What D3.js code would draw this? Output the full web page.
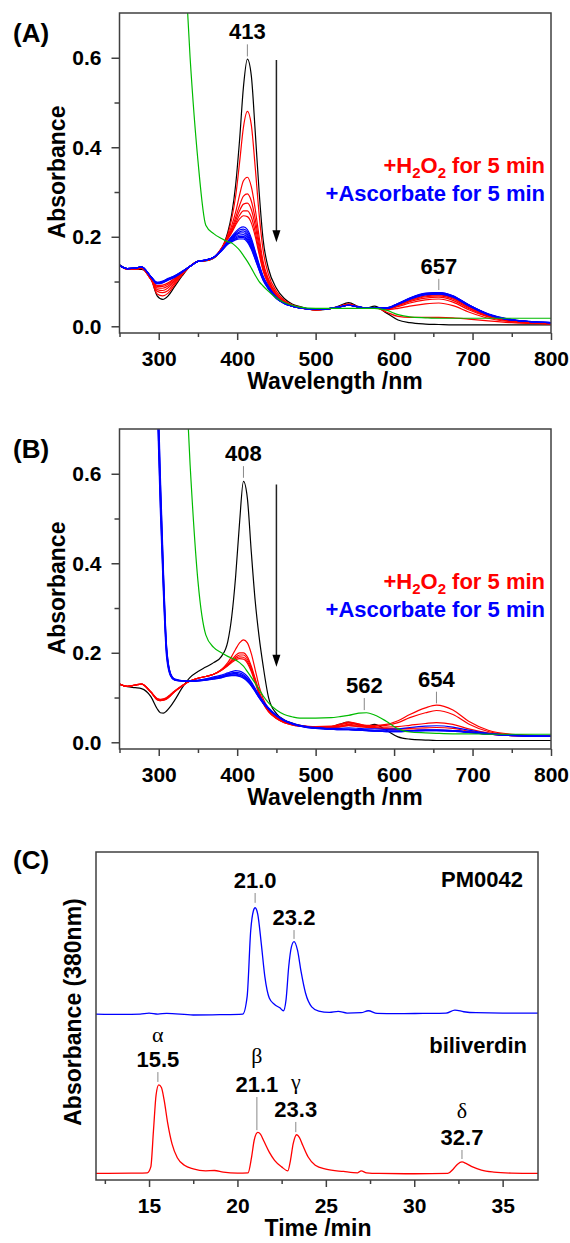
<!DOCTYPE html>
<html>
<head>
<meta charset="utf-8">
<title>Spectral changes and HPLC of biliverdin isomers</title>
<script src="https://d3js.org/d3.v7.min.js"></script>
<style>
  body { margin: 0; background: #fff; }
  svg { display: block; }
  text { font-family: 'Liberation Sans', Arial, Helvetica, sans-serif; font-weight: bold; fill: #000; }
  .tick text { font-size: 21px; }
  .title { font-size: 23px; }
  .peak { font-size: 22px; }
  .legend text { font-size: 22px; }
  .panel { font-size: 26px; }
  .greek { font-family: 'Liberation Serif', 'Times New Roman', serif; font-weight: normal; font-size: 22px; }
</style>
</head>
<body>
<svg id="figure" width="570" height="1243"></svg>
<script>
// ---------- (A) UV-vis spectra ----------
const nmA = [250, 260, 270, 278, 290, 298, 305, 312, 320, 330, 340, 350, 360, 370, 380,
  388, 393, 398, 403, 408, 413, 418, 423, 428, 433, 440, 450, 460, 470, 480,
  500, 520, 530, 542, 555, 565, 575, 590, 605, 620, 640, 657, 675, 695, 720, 750, 800]

const blackA = [0.138, 0.128, 0.127, 0.127, 0.108, 0.068, 0.060, 0.068, 0.088, 0.113,
  0.134, 0.145, 0.146, 0.152, 0.172, 0.210, 0.250, 0.315, 0.415, 0.535,
  0.597, 0.560, 0.435, 0.300, 0.195, 0.128, 0.085, 0.062, 0.050, 0.044,
  0.036, 0.040, 0.046, 0.053, 0.044, 0.041, 0.045, 0.030, 0.014, 0.008,
  0.005, 0.004, 0.003, 0.003, 0.003, 0.003, 0.003]

// +H2O2 traces
const redA = [
  [0.136, 0.128, 0.128, 0.130, 0.107, 0.072, 0.068, 0.074, 0.092, 0.115,
   0.134, 0.145, 0.147, 0.153, 0.174, 0.205, 0.240, 0.290, 0.365, 0.445,
   0.480, 0.450, 0.355, 0.250, 0.170, 0.115, 0.078, 0.058, 0.048, 0.043,
   0.037, 0.040, 0.044, 0.050, 0.043, 0.040, 0.042, 0.032, 0.022, 0.020,
   0.020, 0.020, 0.019, 0.016, 0.012, 0.008, 0.005],
  [0.136, 0.128, 0.128, 0.130, 0.106, 0.078, 0.075, 0.080, 0.096, 0.117,
   0.134, 0.145, 0.147, 0.153, 0.174, 0.200, 0.225, 0.255, 0.293, 0.325,
   0.333, 0.312, 0.262, 0.200, 0.145, 0.105, 0.073, 0.056, 0.047, 0.042,
   0.037, 0.040, 0.044, 0.049, 0.043, 0.040, 0.041, 0.037, 0.040, 0.045,
   0.050, 0.052, 0.046, 0.032, 0.018, 0.010, 0.006],
  [0.136, 0.128, 0.128, 0.130, 0.106, 0.082, 0.080, 0.086, 0.099, 0.118,
   0.134, 0.145, 0.147, 0.153, 0.174, 0.198, 0.218, 0.243, 0.270, 0.291,
   0.296, 0.280, 0.240, 0.186, 0.138, 0.101, 0.071, 0.055, 0.046, 0.042,
   0.037, 0.040, 0.043, 0.048, 0.043, 0.040, 0.041, 0.038, 0.044, 0.052,
   0.059, 0.061, 0.054, 0.037, 0.021, 0.011, 0.006],
  [0.136, 0.128, 0.128, 0.130, 0.105, 0.086, 0.085, 0.090, 0.102, 0.119,
   0.134, 0.145, 0.147, 0.153, 0.174, 0.197, 0.214, 0.236, 0.258, 0.273,
   0.275, 0.261, 0.225, 0.176, 0.133, 0.098, 0.069, 0.054, 0.046, 0.041,
   0.037, 0.040, 0.043, 0.048, 0.043, 0.040, 0.041, 0.038, 0.046, 0.055,
   0.063, 0.065, 0.058, 0.040, 0.022, 0.012, 0.006],
  [0.136, 0.128, 0.128, 0.130, 0.105, 0.089, 0.089, 0.094, 0.105, 0.120,
   0.134, 0.145, 0.147, 0.153, 0.173, 0.196, 0.211, 0.230, 0.248, 0.258,
   0.258, 0.244, 0.211, 0.167, 0.128, 0.095, 0.068, 0.054, 0.045, 0.041,
   0.037, 0.040, 0.043, 0.047, 0.043, 0.040, 0.041, 0.039, 0.047, 0.057,
   0.066, 0.068, 0.061, 0.042, 0.023, 0.012, 0.007],
  [0.136, 0.128, 0.128, 0.130, 0.105, 0.091, 0.092, 0.097, 0.107, 0.121,
   0.134, 0.145, 0.147, 0.153, 0.173, 0.195, 0.209, 0.226, 0.240, 0.247,
   0.245, 0.231, 0.201, 0.161, 0.124, 0.093, 0.067, 0.053, 0.045, 0.041,
   0.037, 0.040, 0.043, 0.047, 0.043, 0.040, 0.041, 0.039, 0.048, 0.058,
   0.068, 0.070, 0.063, 0.044, 0.024, 0.013, 0.007]
]

// +ascorbate traces
const blueA = [
  [0.136, 0.129, 0.130, 0.132, 0.110, 0.095, 0.097, 0.103, 0.109, 0.121,
   0.134, 0.145, 0.148, 0.154, 0.171, 0.190, 0.201, 0.211, 0.219, 0.222,
   0.216, 0.197, 0.168, 0.138, 0.112, 0.089, 0.065, 0.052, 0.045, 0.041,
   0.038, 0.040, 0.043, 0.047, 0.043, 0.041, 0.042, 0.040, 0.049, 0.060,
   0.070, 0.072, 0.065, 0.046, 0.026, 0.014, 0.008],
  [0.136, 0.129, 0.130, 0.132, 0.110, 0.095, 0.098, 0.104, 0.110, 0.121,
   0.134, 0.145, 0.148, 0.154, 0.171, 0.189, 0.199, 0.208, 0.215, 0.217,
   0.211, 0.193, 0.165, 0.136, 0.111, 0.088, 0.065, 0.052, 0.045, 0.041,
   0.038, 0.040, 0.043, 0.047, 0.043, 0.041, 0.042, 0.040, 0.049, 0.061,
   0.071, 0.0725, 0.066, 0.046, 0.026, 0.014, 0.008],
  [0.136, 0.129, 0.130, 0.133, 0.111, 0.096, 0.098, 0.104, 0.110, 0.122,
   0.134, 0.145, 0.148, 0.154, 0.170, 0.188, 0.197, 0.205, 0.211, 0.213,
   0.206, 0.189, 0.162, 0.134, 0.109, 0.087, 0.064, 0.052, 0.045, 0.041,
   0.038, 0.040, 0.043, 0.047, 0.043, 0.041, 0.042, 0.040, 0.050, 0.061,
   0.071, 0.073, 0.066, 0.047, 0.026, 0.014, 0.008],
  [0.136, 0.129, 0.130, 0.133, 0.111, 0.096, 0.099, 0.105, 0.111, 0.122,
   0.134, 0.145, 0.148, 0.154, 0.170, 0.187, 0.195, 0.203, 0.208, 0.209,
   0.202, 0.185, 0.159, 0.132, 0.108, 0.086, 0.064, 0.051, 0.045, 0.041,
   0.038, 0.040, 0.043, 0.047, 0.043, 0.041, 0.042, 0.040, 0.050, 0.062,
   0.072, 0.0735, 0.066, 0.047, 0.027, 0.014, 0.008],
  [0.136, 0.129, 0.130, 0.133, 0.111, 0.097, 0.099, 0.105, 0.111, 0.122,
   0.134, 0.145, 0.148, 0.154, 0.170, 0.186, 0.193, 0.200, 0.204, 0.205,
   0.198, 0.181, 0.156, 0.130, 0.107, 0.085, 0.063, 0.051, 0.045, 0.041,
   0.038, 0.040, 0.043, 0.047, 0.043, 0.041, 0.042, 0.040, 0.050, 0.062,
   0.072, 0.074, 0.067, 0.047, 0.027, 0.014, 0.008],
  [0.136, 0.129, 0.130, 0.133, 0.111, 0.097, 0.100, 0.106, 0.112, 0.122,
   0.134, 0.145, 0.148, 0.154, 0.169, 0.185, 0.191, 0.197, 0.201, 0.201,
   0.194, 0.178, 0.153, 0.128, 0.105, 0.084, 0.063, 0.051, 0.045, 0.041,
   0.038, 0.040, 0.043, 0.047, 0.043, 0.041, 0.042, 0.041, 0.050, 0.062,
   0.073, 0.0745, 0.067, 0.048, 0.027, 0.014, 0.008],
  [0.136, 0.129, 0.130, 0.133, 0.111, 0.098, 0.100, 0.106, 0.112, 0.123,
   0.134, 0.145, 0.148, 0.154, 0.169, 0.184, 0.190, 0.195, 0.198, 0.198,
   0.191, 0.175, 0.151, 0.126, 0.104, 0.083, 0.062, 0.051, 0.045, 0.041,
   0.038, 0.040, 0.043, 0.047, 0.043, 0.041, 0.042, 0.041, 0.051, 0.063,
   0.073, 0.075, 0.068, 0.048, 0.027, 0.015, 0.008],
  [0.136, 0.129, 0.130, 0.133, 0.111, 0.098, 0.101, 0.107, 0.113, 0.123,
   0.134, 0.145, 0.148, 0.154, 0.168, 0.183, 0.188, 0.193, 0.195, 0.195,
   0.188, 0.172, 0.149, 0.125, 0.103, 0.083, 0.062, 0.051, 0.045, 0.041,
   0.038, 0.040, 0.043, 0.047, 0.043, 0.041, 0.042, 0.041, 0.051, 0.063,
   0.074, 0.0755, 0.068, 0.048, 0.028, 0.015, 0.008]
]

const greenA = [null, null, null, null, null, null, null, null, null, 0.920,
  0.600, 0.370, 0.226, 0.207, 0.196, 0.189, 0.186, 0.179, 0.170, 0.158,
  0.145, 0.130, 0.114, 0.100, 0.090, 0.078, 0.063, 0.053, 0.047, 0.043,
  0.040, 0.040, 0.040, 0.040, 0.040, 0.040, 0.040, 0.036, 0.026, 0.021,
  0.019, 0.018, 0.018, 0.018, 0.018, 0.018, 0.018]

// ---------- (B) UV-vis spectra ----------
const nmB = [250, 260, 270, 278, 290, 298, 302, 306, 310, 315, 320, 330, 340, 350, 360,
  370, 380, 388, 393, 398, 403, 408, 413, 418, 423, 428, 433, 440, 450, 460,
  470, 480, 500, 520, 530, 542, 555, 565, 575, 590, 605, 620, 640, 654, 675,
  695, 720, 750, 800]

const blackB = [0.130, 0.124, 0.122, 0.120, 0.102, 0.075, 0.066, 0.065, 0.070, 0.080,
  0.093, 0.122, 0.145, 0.158, 0.168, 0.178, 0.192, 0.225, 0.280, 0.370,
  0.490, 0.583, 0.545, 0.425, 0.315, 0.235, 0.172, 0.100, 0.064, 0.050,
  0.043, 0.038, 0.033, 0.035, 0.040, 0.045, 0.039, 0.036, 0.040, 0.027,
  0.012, 0.007, 0.005, 0.004, 0.004, 0.004, 0.004, 0.004, 0.004]

const redB = [
  [0.130, 0.125, 0.128, 0.130, 0.113, 0.098, 0.096, 0.097, 0.100, 0.107,
   0.114, 0.127, 0.137, 0.143, 0.147, 0.152, 0.163, 0.178, 0.192, 0.208,
   0.222, 0.229, 0.222, 0.198, 0.162, 0.125, 0.098, 0.075, 0.056, 0.046,
   0.041, 0.038, 0.035, 0.036, 0.040, 0.045, 0.041, 0.038, 0.038, 0.040,
   0.048, 0.062, 0.077, 0.083, 0.072, 0.047, 0.027, 0.018, 0.014],
  [0.130, 0.125, 0.128, 0.130, 0.112, 0.097, 0.095, 0.096, 0.099, 0.106,
   0.114, 0.127, 0.137, 0.143, 0.147, 0.152, 0.162, 0.174, 0.184, 0.194,
   0.200, 0.200, 0.191, 0.170, 0.142, 0.113, 0.091, 0.071, 0.054, 0.045,
   0.040, 0.037, 0.034, 0.035, 0.038, 0.043, 0.040, 0.037, 0.037, 0.038,
   0.044, 0.055, 0.066, 0.071, 0.062, 0.041, 0.024, 0.017, 0.014],
  [0.130, 0.125, 0.128, 0.130, 0.112, 0.096, 0.094, 0.095, 0.098, 0.105,
   0.113, 0.126, 0.137, 0.143, 0.147, 0.152, 0.162, 0.173, 0.182, 0.190,
   0.195, 0.195, 0.186, 0.166, 0.139, 0.111, 0.090, 0.070, 0.054, 0.045,
   0.040, 0.037, 0.034, 0.034, 0.036, 0.040, 0.038, 0.036, 0.035, 0.034,
   0.035, 0.038, 0.042, 0.044, 0.040, 0.030, 0.021, 0.016, 0.014],
  [0.130, 0.125, 0.128, 0.130, 0.112, 0.095, 0.093, 0.094, 0.097, 0.104,
   0.113, 0.126, 0.137, 0.143, 0.147, 0.152, 0.161, 0.172, 0.180, 0.187,
   0.191, 0.190, 0.181, 0.162, 0.136, 0.109, 0.088, 0.069, 0.053, 0.044,
   0.039, 0.036, 0.033, 0.033, 0.035, 0.038, 0.036, 0.034, 0.033, 0.031,
   0.030, 0.031, 0.032, 0.033, 0.031, 0.025, 0.019, 0.015, 0.013],
  [0.130, 0.125, 0.128, 0.130, 0.112, 0.095, 0.093, 0.094, 0.097, 0.104,
   0.113, 0.126, 0.137, 0.143, 0.147, 0.152, 0.161, 0.171, 0.178, 0.184,
   0.187, 0.186, 0.177, 0.158, 0.133, 0.107, 0.087, 0.068, 0.053, 0.044,
   0.039, 0.036, 0.033, 0.033, 0.034, 0.037, 0.035, 0.033, 0.032, 0.030,
   0.028, 0.027, 0.027, 0.027, 0.026, 0.022, 0.018, 0.015, 0.013]
]

const blueB = [
  [null, null, null, null, null, 0.760, 0.520, 0.330, 0.190, 0.148,
   0.139, 0.137, 0.137, 0.139, 0.142, 0.146, 0.150, 0.155, 0.158, 0.160,
   0.159, 0.155, 0.147, 0.135, 0.120, 0.105, 0.092, 0.077, 0.061, 0.050,
   0.043, 0.038, 0.033, 0.031, 0.031, 0.032, 0.031, 0.030, 0.030, 0.029,
   0.030, 0.033, 0.036, 0.037, 0.034, 0.027, 0.020, 0.016, 0.013],
  [null, null, null, null, null, 0.780, 0.540, 0.345, 0.198, 0.150,
   0.140, 0.137, 0.136, 0.138, 0.141, 0.144, 0.148, 0.153, 0.155, 0.156,
   0.155, 0.151, 0.143, 0.132, 0.118, 0.104, 0.091, 0.076, 0.060, 0.049,
   0.042, 0.037, 0.032, 0.030, 0.029, 0.029, 0.028, 0.027, 0.026, 0.025,
   0.025, 0.026, 0.027, 0.027, 0.026, 0.023, 0.019, 0.016, 0.013],
  [null, null, null, null, null, 0.800, 0.555, 0.355, 0.203, 0.151,
   0.140, 0.137, 0.136, 0.138, 0.140, 0.143, 0.147, 0.152, 0.153, 0.154,
   0.152, 0.148, 0.141, 0.130, 0.116, 0.102, 0.090, 0.075, 0.060, 0.049,
   0.042, 0.037, 0.032, 0.030, 0.029, 0.029, 0.028, 0.027, 0.026, 0.025,
   0.025, 0.026, 0.027, 0.027, 0.026, 0.023, 0.019, 0.016, 0.013],
  [null, null, null, null, null, 0.820, 0.570, 0.365, 0.207, 0.152,
   0.141, 0.137, 0.136, 0.137, 0.140, 0.143, 0.146, 0.150, 0.152, 0.152,
   0.150, 0.146, 0.139, 0.128, 0.115, 0.101, 0.089, 0.075, 0.059, 0.048,
   0.042, 0.037, 0.032, 0.030, 0.029, 0.029, 0.028, 0.027, 0.026, 0.025,
   0.025, 0.026, 0.027, 0.027, 0.026, 0.023, 0.019, 0.016, 0.013],
  [null, null, null, null, null, 0.840, 0.585, 0.375, 0.212, 0.153,
   0.141, 0.137, 0.136, 0.137, 0.139, 0.142, 0.145, 0.149, 0.150, 0.150,
   0.148, 0.144, 0.137, 0.127, 0.114, 0.100, 0.088, 0.074, 0.059, 0.048,
   0.041, 0.036, 0.031, 0.029, 0.028, 0.028, 0.027, 0.026, 0.025, 0.024,
   0.024, 0.025, 0.026, 0.026, 0.025, 0.022, 0.018, 0.015, 0.013],
  [null, null, null, null, null, 0.860, 0.600, 0.385, 0.216, 0.154,
   0.142, 0.138, 0.136, 0.137, 0.139, 0.141, 0.144, 0.148, 0.149, 0.149,
   0.147, 0.143, 0.136, 0.126, 0.113, 0.099, 0.087, 0.074, 0.059, 0.048,
   0.041, 0.036, 0.031, 0.029, 0.028, 0.028, 0.027, 0.026, 0.025, 0.024,
   0.024, 0.025, 0.026, 0.026, 0.025, 0.022, 0.018, 0.015, 0.013]
]

const greenB = [null, null, null, null, null, null, null, null, null, null,
  null, 0.980, 0.620, 0.360, 0.240, 0.212, 0.200, 0.192, 0.188, 0.184,
  0.178, 0.170, 0.158, 0.145, 0.132, 0.118, 0.104, 0.088, 0.072, 0.062,
  0.057, 0.054, 0.054, 0.055, 0.057, 0.060, 0.065, 0.066, 0.061, 0.047,
  0.030, 0.023, 0.021, 0.020, 0.019, 0.019, 0.018, 0.018, 0.018]

// ---------- (C) HPLC traces at 380 nm ----------
const timeBlue = [12, 13.5, 14.5, 15.0, 15.5, 16.0, 17.5, 19.0, 20.3, 20.55, 20.75, 20.9, 21.0,
  21.15, 21.35, 21.55, 21.8, 22.1, 22.4, 22.6, 22.75, 22.9, 23.05, 23.2, 23.4, 23.6, 23.85,
  24.2, 24.6, 25.2, 25.7, 26.2, 27.0, 27.4, 27.9, 29.0, 30.5, 31.8, 32.3, 32.8, 33.5, 35.0, 37]
const absBlue = [0.506, 0.505, 0.506, 0.509, 0.506, 0.508, 0.503, 0.504, 0.506, 0.560, 0.760, 0.820, 0.830,
  0.810, 0.720, 0.620, 0.555, 0.535, 0.525, 0.516, 0.550, 0.650, 0.710, 0.727, 0.700, 0.635, 0.570,
  0.528, 0.515, 0.511, 0.514, 0.509, 0.510, 0.516, 0.508, 0.507, 0.508, 0.509, 0.518, 0.513, 0.510, 0.509, 0.509]

const timeRed = [12, 14.0, 14.9, 15.1, 15.25, 15.4, 15.55, 15.7, 15.85, 16.05, 16.3, 16.6, 17.0,
  17.5, 18.2, 18.7, 19.2, 20.0, 20.6, 20.8, 20.95, 21.15, 21.3, 21.5, 21.8, 22.1, 22.5, 22.85,
  23.0, 23.15, 23.35, 23.5, 23.7, 24.0, 24.4, 25.0, 26.0, 26.8, 27.0, 27.3, 28.0, 30.0, 31.9,
  32.2, 32.45, 32.7, 32.95, 33.3, 33.8, 34.5, 35.5, 37]
const absRed = [0.020, 0.021, 0.022, 0.040, 0.150, 0.260, 0.290, 0.282, 0.245, 0.175, 0.110, 0.068, 0.045,
  0.034, 0.028, 0.029, 0.024, 0.021, 0.022, 0.070, 0.122, 0.145, 0.140, 0.118, 0.085, 0.060, 0.040, 0.028,
  0.060, 0.110, 0.138, 0.130, 0.105, 0.070, 0.045, 0.033, 0.026, 0.022, 0.028, 0.022, 0.020, 0.019, 0.020,
  0.033, 0.048, 0.055, 0.050, 0.040, 0.030, 0.024, 0.021, 0.020]

// tick values
const nmMajor = [300, 400, 500, 600, 700, 800]
const nmMinor = [250, 350, 450, 550, 650, 750]
const absMajor = [0, 0.2, 0.4, 0.6]
const absMinor = [0.1, 0.3, 0.5]
const timeMajor = [15, 20, 25, 30, 35]
const timeMinor = [12.5, 17.5, 22.5, 27.5, 32.5]

// annotations (data units)
const peaksA = [{nm: 413, text: '413', lo: 0.603, hi: 0.630}, {nm: 657, text: '657', lo: 0.081, hi: 0.106}]
const peaksB = [{nm: 408, text: '408', lo: 0.591, hi: 0.617}, {nm: 562, text: '562', lo: 0.072, hi: 0.099},
  {nm: 654, text: '654', lo: 0.087, hi: 0.113}]
const arrowA = {nm: 450, from: 0.595, to: 0.188}
const arrowB = {nm: 450, from: 0.576, to: 0.169}
const peaksC = [
  {t: 21.0, text: '21.0', lo: 0.845, hi: 0.875},
  {t: 23.2, text: '23.2', lo: 0.735, hi: 0.762},
  {t: 15.5, text: '15.5', greek: 'α', lo: 0.299, hi: 0.329, gap: 25},
  {t: 21.1, text: '21.1', greek: 'β', lo: 0.152, hi: 0.253, gap: 29},
  {t: 23.3, text: '23.3', greek: 'γ', lo: 0.146, hi: 0.177, gap: 28},
  {t: 32.7, text: '32.7', greek: 'δ', lo: 0.064, hi: 0.0915, gap: 27}
]

const RED = '#ff0000', BLUE = '#0000ff', GREEN = '#00bb00', AXIS = '#404040'
const svg = d3.select('#figure')

function styleAxis(sel) {
  sel.attr('font-family', null).attr('font-size', null)
  sel.select('.domain').remove()
  sel.selectAll('.tick line').attr('stroke', AXIS).attr('stroke-width', 1.5)
}

function drawSpectra(top, nm, traces, peaks, arrow, tag) {
  const bottom = top + 320
  const x = d3.scaleLinear().domain([250, 800]).range([119.5, 551])
  const y = d3.scaleLinear().domain([-0.015, 0.70]).range([bottom, top])
  const g = svg.append('g')

  g.append('clipPath').attr('id', 'clip' + tag).append('rect')
    .attr('x', 119.5).attr('y', top).attr('width', 431.5).attr('height', 320)

  const line = d3.line()
    .defined(d => d[1] != null)
    .x(d => x(d[0])).y(d => y(d[1]))
    .curve(d3.curveMonotoneX)

  const plot = g.append('g').attr('clip-path', `url(#clip${tag})`)
  traces.forEach(t => {
    plot.append('path')
      .datum(nm.map((w, i) => [w, t.values[i]]))
      .attr('d', line)
      .attr('fill', 'none')
      .attr('stroke', t.color)
      .attr('stroke-width', 1.2)
      .attr('stroke-linejoin', 'round')
  })

  g.append('g').attr('transform', `translate(0,${bottom})`)
    .call(d3.axisBottom(x).tickValues(nmMinor).tickSize(4).tickFormat(''))
    .call(styleAxis)
  g.append('g').attr('transform', `translate(0,${bottom})`)
    .call(d3.axisBottom(x).tickValues(nmMajor).tickSize(7).tickPadding(11).tickFormat(d3.format('d')))
    .call(styleAxis)
  g.append('g').attr('transform', 'translate(119.5,0)')
    .call(d3.axisLeft(y).tickValues(absMinor).tickSize(5).tickFormat(''))
    .call(styleAxis)
  g.append('g').attr('transform', 'translate(119.5,0)')
    .call(d3.axisLeft(y).tickValues(absMajor).tickSize(8).tickPadding(10).tickFormat(d3.format('.1f')))
    .call(styleAxis)

  g.append('rect').attr('x', 119.5).attr('y', top).attr('width', 431.5).attr('height', 320)
    .attr('fill', 'none').attr('stroke', AXIS).attr('stroke-width', 1.5)

  // arrow showing the decrease of the Soret band
  const ax = x(arrow.nm), ay0 = y(arrow.from), ay1 = y(arrow.to)
  g.append('line').attr('x1', ax).attr('x2', ax).attr('y1', ay0).attr('y2', ay1 - 10)
    .attr('stroke', '#222').attr('stroke-width', 1.5)
  g.append('path').attr('d', `M${ax - 4},${ay1 - 12}L${ax + 4},${ay1 - 12}L${ax},${ay1}Z`).attr('fill', '#000')

  peaks.forEach(p => {
    g.append('line').attr('x1', x(p.nm)).attr('x2', x(p.nm)).attr('y1', y(p.hi)).attr('y2', y(p.lo))
      .attr('stroke', '#888').attr('stroke-width', 1)
    g.append('text').attr('class', 'peak').attr('x', x(p.nm)).attr('y', y(p.hi) - 5)
      .attr('text-anchor', 'middle').text(p.text)
  })

  // legend
  const leg = g.append('g').attr('class', 'legend')
  const t1 = leg.append('text').attr('x', 545).attr('y', top + 160).attr('text-anchor', 'end').style('fill', RED)
  t1.append('tspan').text('+H')
  t1.append('tspan').attr('font-size', 15).attr('dy', 5).text('2')
  t1.append('tspan').attr('dy', -5).text('O')
  t1.append('tspan').attr('font-size', 15).attr('dy', 5).text('2')
  t1.append('tspan').attr('dy', -5).text('\u00a0for 5 min')
  leg.append('text').attr('x', 545).attr('y', top + 188).attr('text-anchor', 'end').style('fill', BLUE)
    .text('+Ascorbate for 5 min')

  g.append('text').attr('class', 'panel').attr('x', 13).attr('y', top + 29).text(`(${tag})`)
  g.append('text').attr('class', 'title').attr('x', 335).attr('y', top + 376)
    .attr('text-anchor', 'middle').text('Wavelength /nm')
  g.append('text').attr('class', 'title').attr('text-anchor', 'middle')
    .attr('transform', `translate(65,${top + 159}) rotate(-90)`).text('Absorbance')
}

function series(list, color) {
  return list.map(v => ({values: v, color}))
}

drawSpectra(13, nmA,
  [{values: blackA, color: '#000'}, ...series(redA, RED), ...series(blueA, BLUE), {values: greenA, color: GREEN}],
  peaksA, arrowA, 'A')
drawSpectra(429, nmB,
  [{values: blackB, color: '#000'}, ...series(redB, RED), ...series(blueB, BLUE), {values: greenB, color: GREEN}],
  peaksB, arrowB, 'B')

// ---------- panel C ----------
function drawChromatogram() {
  const left = 96, right = 538, top = 852, bottom = 1180
  const x = d3.scaleLinear().domain([12, 37]).range([left, right])
  const y = d3.scaleLinear().domain([0, 1]).range([bottom, top])
  const g = svg.append('g')

  g.append('clipPath').attr('id', 'clipC').append('rect')
    .attr('x', left).attr('y', top).attr('width', right - left).attr('height', bottom - top)

  const line = d3.line().x(d => x(d[0])).y(d => y(d[1])).curve(d3.curveMonotoneX)
  const plot = g.append('g').attr('clip-path', 'url(#clipC)')
  ;[[timeBlue, absBlue, BLUE], [timeRed, absRed, RED]].forEach(([t, v, color]) => {
    plot.append('path').datum(t.map((d, i) => [d, v[i]])).attr('d', line)
      .attr('fill', 'none').attr('stroke', color).attr('stroke-width', 1.3)
  })

  g.append('g').attr('transform', `translate(0,${bottom})`)
    .call(d3.axisBottom(x).tickValues(timeMinor).tickSize(4).tickFormat(''))
    .call(styleAxis)
  g.append('g').attr('transform', `translate(0,${bottom})`)
    .call(d3.axisBottom(x).tickValues(timeMajor).tickSize(7).tickPadding(11).tickFormat(d3.format('d')))
    .call(styleAxis)
  g.append('rect').attr('x', left).attr('y', top).attr('width', right - left).attr('height', bottom - top)
    .attr('fill', 'none').attr('stroke', AXIS).attr('stroke-width', 1.5)

  peaksC.forEach(p => {
    g.append('line').attr('x1', x(p.t)).attr('x2', x(p.t)).attr('y1', y(p.hi)).attr('y2', y(p.lo))
      .attr('stroke', '#888').attr('stroke-width', 1)
    const base = y(p.hi) - 5
    g.append('text').attr('class', 'peak').attr('x', x(p.t)).attr('y', base)
      .attr('text-anchor', 'middle').text(p.text)
    if (p.greek) {
      g.append('text').attr('class', 'greek').attr('x', x(p.t)).attr('y', base - p.gap)
        .attr('text-anchor', 'middle').text(p.greek)
    }
  })

  g.append('text').attr('class', 'peak').attr('x', 523).attr('y', 887).attr('text-anchor', 'end').text('PM0042')
  g.append('text').attr('class', 'peak').attr('x', 527).attr('y', 1053).attr('text-anchor', 'end').text('biliverdin')
  g.append('text').attr('class', 'panel').attr('x', 13).attr('y', 869).text('(C)')
  g.append('text').attr('class', 'title').attr('x', 318).attr('y', 1236).attr('text-anchor', 'middle').text('Time /min')
  g.append('text').attr('class', 'title').attr('text-anchor', 'middle')
    .attr('transform', 'translate(81,1012) rotate(-90)').text('Absorbance (380nm)')
}

drawChromatogram()
</script>
</body>
</html>
